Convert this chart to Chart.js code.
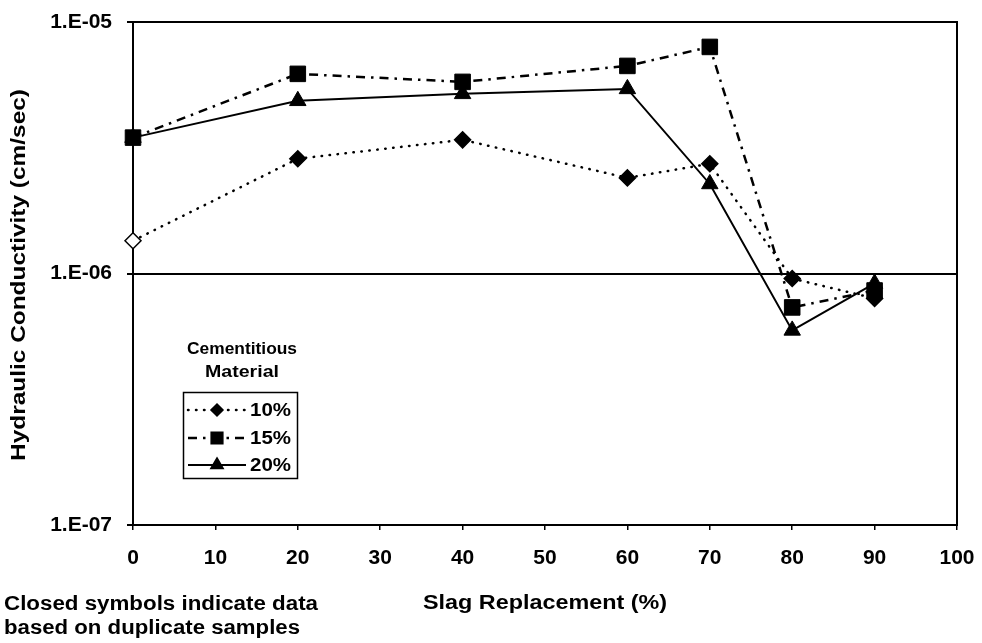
<!DOCTYPE html>
<html>
<head>
<meta charset="utf-8">
<script src="https://cdn.jsdelivr.net/npm/chart.js@4/dist/chart.umd.min.js"></script>
<style>
  html, body { margin: 0; padding: 0; background: #ffffff; }
  canvas { display: block; }
</style>
</head>
<body>
<canvas id="chart" width="982" height="643"></canvas>
<script>
// Slag replacement levels (% of cementitious material)
const SLAG_PCT = [0, 20, 40, 60, 70, 80, 90];

// Hydraulic conductivity (cm/sec) for each cementitious material content
const K_10 = [1.35e-6, 2.86e-6, 3.40e-6, 2.40e-6, 2.73e-6, 9.55e-7, 7.96e-7];
const K_15 = [3.47e-6, 6.22e-6, 5.78e-6, 6.69e-6, 7.96e-6, 7.33e-7, 8.56e-7];
const K_20 = [3.47e-6, 4.86e-6, 5.18e-6, 5.42e-6, 2.27e-6, 5.94e-7, 9.13e-7];

// true = closed symbol (duplicate samples), false = open symbol
const DUPLICATE_10 = [false, true, true, true, true, true, true];

const SERIES_LABELS = ['10%', '15%', '20%'];
const LEGEND_TITLE = ['Cementitious', 'Material'];

const X_TICKS = [0, 10, 20, 30, 40, 50, 60, 70, 80, 90, 100];
const Y_TICKS = [1e-7, 1e-6, 1e-5];
const Y_TICK_LABELS = ['1.E-07', '1.E-06', '1.E-05'];

const X_TITLE = 'Slag Replacement (%)';
const Y_TITLE = 'Hydraulic Conductivity (cm/sec)';
const NOTE_LINES = ['Closed symbols indicate data', 'based on duplicate samples'];

const FONT = "'Liberation Sans', Arial, Helvetica, sans-serif";
const INK = '#000000';

// Plot frame position on the page
const FRAME = { left: 133, top: 22, right: 957, bottom: 525 };

function toPoints(xs, ys) {
  return xs.map((x, i) => ({ x: x, y: ys[i] }));
}

// Draw text stretched horizontally so it spans the given width
function fitText(ctx, text, x, y, width, align) {
  const m = ctx.measureText(text).width;
  const sx = width / m;
  ctx.save();
  ctx.translate(x, y);
  ctx.scale(sx, 1);
  ctx.textAlign = align;
  ctx.fillText(text, 0, 0);
  ctx.restore();
}

function drawMarker(ctx, style, radius, x, y, fill) {
  ctx.save();
  ctx.fillStyle = fill;
  ctx.strokeStyle = INK;
  ctx.lineWidth = 1.5;
  ctx.setLineDash([]);
  ctx.beginPath();
  if (style === 'rectRot') {
    ctx.moveTo(x, y - radius);
    ctx.lineTo(x + radius, y);
    ctx.lineTo(x, y + radius);
    ctx.lineTo(x - radius, y);
    ctx.closePath();
  } else if (style === 'rect') {
    const s = Math.SQRT1_2 * radius;
    ctx.rect(x - s, y - s, 2 * s, 2 * s);
  } else if (style === 'triangle') {
    ctx.moveTo(x, y - radius);
    ctx.lineTo(x + radius * Math.sin(Math.PI / 3), y + radius * 0.5);
    ctx.lineTo(x - radius * Math.sin(Math.PI / 3), y + radius * 0.5);
    ctx.closePath();
  }
  ctx.fill();
  ctx.stroke();
  ctx.restore();
}

// Pin the plot area to the frame, whatever room the tick labels ask for
const pinArea = {
  id: 'pinArea',
  afterLayout(chart) {
    const a = chart.chartArea;
    a.left = FRAME.left; a.top = FRAME.top;
    a.right = FRAME.right; a.bottom = FRAME.bottom;
    a.width = a.right - a.left; a.height = a.bottom - a.top;
    const x = chart.scales.x, y = chart.scales.y;
    x.left = a.left; x.right = a.right; x.width = a.width;
    x.top = a.bottom; x.bottom = chart.height; x.height = x.bottom - x.top;
    y.top = a.top; y.bottom = a.bottom; y.height = a.height;
    y.left = 0; y.right = a.left; y.width = a.left;
    x.configure(); y.configure();
    x._labelItems = null; y._labelItems = null;
    x._gridLineItems = null; y._gridLineItems = null;
  }
};

// Frame, axis titles, note and legend
const decorations = {
  id: 'decorations',
  afterDraw(chart) {
    const ctx = chart.ctx;
    const area = chart.chartArea;

    // right border of the plot frame
    ctx.save();
    ctx.strokeStyle = INK;
    ctx.lineWidth = 2;
    ctx.beginPath();
    ctx.moveTo(area.right, area.top - 1);
    ctx.lineTo(area.right, area.bottom + 1);
    ctx.stroke();
    ctx.restore();

    ctx.save();
    ctx.fillStyle = INK;
    ctx.textBaseline = 'middle';

    // axis titles
    ctx.font = 'bold 20px ' + FONT;
    fitText(ctx, X_TITLE, 545, 603, 244, 'center');

    ctx.save();
    ctx.translate(19, 275);
    ctx.rotate(-Math.PI / 2);
    fitText(ctx, Y_TITLE, 0, 0, 372, 'center');
    ctx.restore();

    // note below the chart
    ctx.font = 'bold 20px ' + FONT;
    fitText(ctx, NOTE_LINES[0], 4, 604, 314, 'left');
    fitText(ctx, NOTE_LINES[1], 4, 628, 296, 'left');

    // legend title
    ctx.font = 'bold 17px ' + FONT;
    fitText(ctx, LEGEND_TITLE[0], 242, 349, 110, 'center');
    fitText(ctx, LEGEND_TITLE[1], 242, 372, 74, 'center');

    // legend box
    ctx.strokeStyle = INK;
    ctx.lineWidth = 1.5;
    ctx.strokeRect(183.5, 392.5, 114, 86);

    // legend entries
    const rowY = [410, 438, 465];
    chart.data.datasets.forEach((ds, i) => {
      const y = rowY[i];
      ctx.save();
      ctx.strokeStyle = INK;
      ctx.lineWidth = ds.borderWidth;
      ctx.lineCap = ds.borderCapStyle || 'butt';
      ctx.setLineDash(ds.borderDash || []);
      ctx.beginPath();
      ctx.moveTo(188, y);
      ctx.lineTo(246, y);
      ctx.stroke();
      ctx.restore();
      drawMarker(ctx, ds.pointStyle, ds.pointRadius * 0.75, 217, y, INK);
      ctx.font = 'bold 19px ' + FONT;
      ctx.fillStyle = INK;
      fitText(ctx, ds.label, 250, y + 1, 41, 'left');
    });
    ctx.restore();
  }
};

const chart = new Chart(document.getElementById('chart'), {
  type: 'line',
  data: {
    datasets: [
      {
        label: SERIES_LABELS[0],
        data: toPoints(SLAG_PCT, K_10),
        borderColor: INK,
        borderWidth: 2.5,
        borderDash: [0.5, 7.5],
        borderCapStyle: 'round',
        pointStyle: 'rectRot',
        pointRadius: 8,
        pointBorderWidth: 1.5,
        pointBorderColor: INK,
        pointBackgroundColor: DUPLICATE_10.map(d => d ? INK : '#ffffff'),
        tension: 0,
        fill: false,
        clip: false
      },
      {
        label: SERIES_LABELS[1],
        data: toPoints(SLAG_PCT, K_15),
        borderColor: INK,
        borderWidth: 2.5,
        borderDash: [9, 6, 2.5, 6],
        pointStyle: 'rect',
        pointRadius: 11,
        pointBorderWidth: 1,
        pointBorderColor: INK,
        pointBackgroundColor: INK,
        tension: 0,
        fill: false,
        clip: false
      },
      {
        label: SERIES_LABELS[2],
        data: toPoints(SLAG_PCT, K_20),
        borderColor: INK,
        borderWidth: 2,
        pointStyle: 'triangle',
        pointRadius: 9.5,
        pointBorderWidth: 1,
        pointBorderColor: INK,
        pointBackgroundColor: INK,
        tension: 0,
        fill: false,
        clip: false
      }
    ]
  },
  options: {
    responsive: false,
    devicePixelRatio: 1,
    animation: false,
    layout: { padding: { top: 22, right: 25, bottom: 0, left: 0 } },
    plugins: {
      legend: { display: false },
      tooltip: { enabled: false }
    },
    scales: {
      x: {
        type: 'linear',
        min: 0,
        max: 100,
        afterBuildTicks(scale) {
          scale.ticks = X_TICKS.map(v => ({ value: v }));
        },
        afterFit(scale) { scale.height = 118; },
        ticks: {
          color: INK,
          font: { family: FONT, size: 21, weight: 'bold' },
          padding: 16,
          maxRotation: 0,
          autoSkip: false
        },
        grid: {
          drawOnChartArea: false,
          drawTicks: true,
          tickLength: 5,
          color: INK,
          lineWidth: 1.5
        },
        border: { display: true, color: INK, width: 2 }
      },
      y: {
        type: 'logarithmic',
        min: Y_TICKS[0],
        max: Y_TICKS[Y_TICKS.length - 1],
        afterBuildTicks(scale) {
          scale.ticks = Y_TICKS.map(v => ({ value: v }));
        },
        afterFit(scale) { scale.width = 133; },
        ticks: {
          color: INK,
          font: { family: FONT, size: 21, weight: 'bold' },
          padding: 15,
          autoSkip: false,
          callback(value) {
            const i = Y_TICKS.findIndex(t => Math.abs(t - value) / t < 1e-6);
            return i >= 0 ? Y_TICK_LABELS[i] : '';
          }
        },
        grid: {
          drawOnChartArea: true,
          drawTicks: true,
          tickLength: 6,
          color: INK,
          lineWidth: 2
        },
        border: { display: true, color: INK, width: 2 }
      }
    }
  },
  plugins: [pinArea, decorations]
});
</script>
</body>
</html>
